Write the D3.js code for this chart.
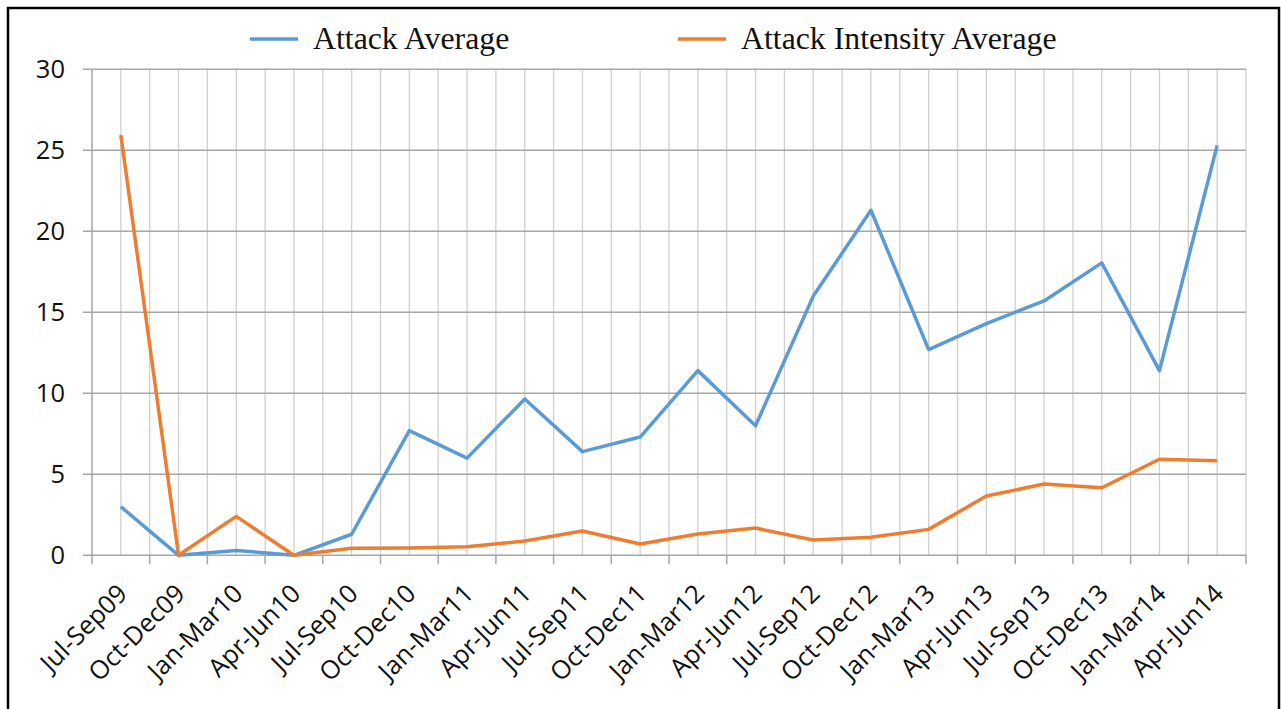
<!DOCTYPE html>
<html>
<head>
<meta charset="utf-8">
<script src="https://cdn.jsdelivr.net/npm/d3@7"></script>
<style>
  html, body { margin: 0; padding: 0; background: #fff; }
  svg { display: block; }
</style>
</head>
<body>
<svg id="chart" width="1281" height="709"></svg>
<script>
// Quarterly labels
const quarters = [
  "Jul-Sep09", "Oct-Dec09", "Jan-Mar10", "Apr-Jun10", "Jul-Sep10",
  "Oct-Dec10", "Jan-Mar11", "Apr-Jun11", "Jul-Sep11", "Oct-Dec11",
  "Jan-Mar12", "Apr-Jun12", "Jul-Sep12", "Oct-Dec12", "Jan-Mar13",
  "Apr-Jun13", "Jul-Sep13", "Oct-Dec13", "Jan-Mar14", "Apr-Jun14"
];

const attackAverage = [
  3.0, 0, 0.3, 0, 1.3,
  7.7, 6.0, 9.65, 6.4, 7.3,
  11.4, 8.0, 16.0, 21.3, 12.7,
  14.3, 15.7, 18.05, 11.4, 25.3
];

const attackIntensityAverage = [
  25.95, 0, 2.4, 0, 0.43,
  0.45, 0.53, 0.88, 1.5, 0.7,
  1.31, 1.68, 0.94, 1.12, 1.6,
  3.66, 4.4, 4.17, 5.93, 5.84
];

const yTicks = [0, 5, 10, 15, 20, 25, 30];

const seriesNames = ["Attack Average", "Attack Intensity Average"];
const seriesColors = ["#5B9BD5", "#ED7D31"];

const svg = d3.select("#chart");

// frame around the whole chart
svg.append("rect")
  .attr("x", 8).attr("y", 8)
  .attr("width", 1271).attr("height", 720)
  .attr("fill", "#fff")
  .attr("stroke", "#000")
  .attr("stroke-width", 2.5);

const plot = { left: 92, right: 1246, top: 69.3, bottom: 555.3 };

const x = d3.scaleBand()
  .domain(quarters)
  .range([plot.left, plot.right])
  .paddingInner(0).paddingOuter(0);

const y = d3.scaleLinear()
  .domain([0, 30])
  .range([plot.bottom, plot.top]);

const cx = q => x(q) + x.bandwidth() / 2;

// vertical gridlines: category boundaries and category centres
const vLines = [];
quarters.forEach(q => { vLines.push(x(q)); vLines.push(cx(q)); });
vLines.push(plot.right);

svg.append("g")
  .selectAll("line")
  .data(vLines.slice(1))
  .join("line")
  .attr("x1", d => d).attr("x2", d => d)
  .attr("y1", plot.top).attr("y2", plot.bottom)
  .attr("stroke", "#d0d0d0")
  .attr("stroke-width", 1.3);

// horizontal gridlines
svg.append("g")
  .selectAll("line")
  .data(yTicks)
  .join("line")
  .attr("x1", plot.left - 9).attr("x2", plot.right)
  .attr("y1", d => y(d)).attr("y2", d => y(d))
  .attr("stroke", "#a6a6a6")
  .attr("stroke-width", 1.5);

// y axis line
svg.append("line")
  .attr("x1", plot.left).attr("x2", plot.left)
  .attr("y1", plot.top).attr("y2", plot.bottom)
  .attr("stroke", "#a6a6a6")
  .attr("stroke-width", 1.5);

// x axis tick marks at category boundaries
const xTickPos = quarters.map(q => x(q)).concat([plot.right]);
svg.append("g")
  .selectAll("line")
  .data(xTickPos)
  .join("line")
  .attr("x1", d => d).attr("x2", d => d)
  .attr("y1", plot.bottom).attr("y2", plot.bottom + 9)
  .attr("stroke", "#a6a6a6")
  .attr("stroke-width", 1.5);

// y tick labels
svg.append("g")
  .selectAll("text")
  .data(yTicks)
  .join("text")
  .attr("x", 65)
  .attr("y", d => y(d))
  .attr("dy", "0.36em")
  .attr("text-anchor", "end")
  .attr("font-family", "'Open Sans', sans-serif")
  .attr("font-size", 25.5)
  .attr("fill", "#111")
  .text(d => d);

// x tick labels, rotated
svg.append("g")
  .selectAll("text")
  .data(quarters)
  .join("text")
  .attr("transform", q => `translate(${cx(q) + 8},${plot.bottom + 40}) rotate(-45)`)
  .attr("text-anchor", "end")
  .attr("font-family", "'Open Sans', sans-serif")
  .attr("font-size", 25.5)
  .attr("fill", "#111")
  .text(q => q);

// series lines
const line = d3.line()
  .x((d, i) => cx(quarters[i]))
  .y(d => y(d));

[attackAverage, attackIntensityAverage].forEach((vals, k) => {
  svg.append("path")
    .datum(vals)
    .attr("fill", "none")
    .attr("stroke", seriesColors[k])
    .attr("stroke-width", 3.5)
    .attr("stroke-linejoin", "round")
    .attr("d", line);
});

// legend
const legendItems = [
  { name: seriesNames[0], color: seriesColors[0], x0: 250 },
  { name: seriesNames[1], color: seriesColors[1], x0: 678 }
];
const legend = svg.append("g");
legendItems.forEach(it => {
  legend.append("line")
    .attr("x1", it.x0).attr("x2", it.x0 + 48)
    .attr("y1", 39).attr("y2", 39)
    .attr("stroke", it.color)
    .attr("stroke-width", 3.5);
  legend.append("text")
    .attr("x", it.x0 + 63)
    .attr("y", 49)
    .attr("font-family", "'Liberation Serif', 'Times New Roman', serif")
    .attr("font-size", 31.8)
    .attr("fill", "#111")
    .text(it.name);
});
</script>
</body>
</html>
